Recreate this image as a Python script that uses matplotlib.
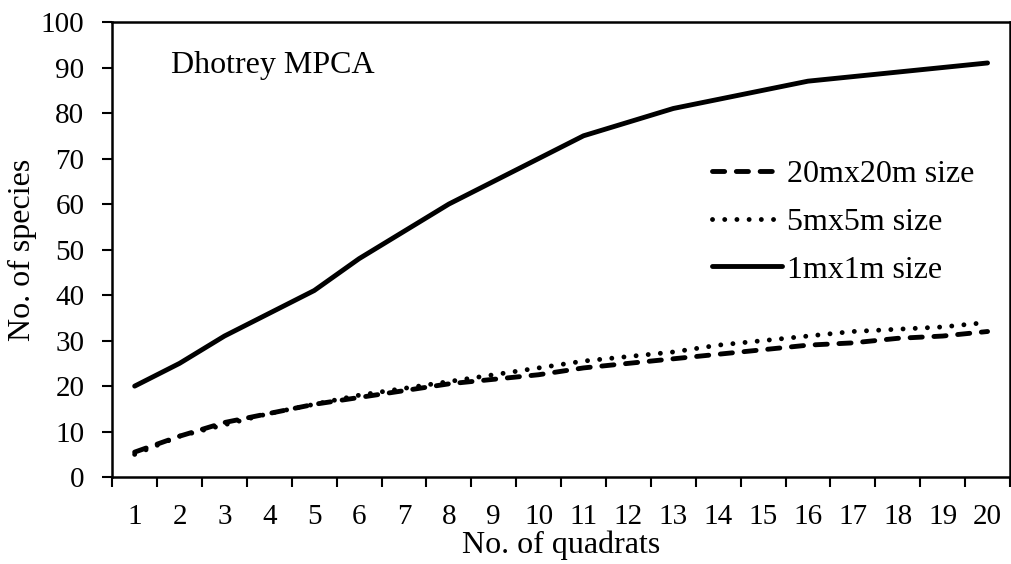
import matplotlib.pyplot as plt
import numpy as np

# data
quadrats = list(range(1, 21))
size_20m = [5.5, 9, 12, 14, 16, 17.5, 19, 20.5, 21.5, 22.5, 24, 25, 26, 27, 28, 29, 29.5, 30.5, 31, 32]
size_5m = [5, 9, 11.5, 14, 16, 18, 19.5, 21, 22.5, 24, 25.5, 26.5, 27.5, 29, 30, 31, 32, 32.5, 33, 34]
size_1m = [20, 25, 31, 36, 41, 48, 54, 60, 65, 70, 75, 78, 81, 83, 85, 87, 88, 89, 90, 91]

plt.rcParams['font.family'] = ['Liberation Serif', 'DejaVu Serif']
plt.rcParams['font.size'] = 23

fig, ax = plt.subplots(figsize=(10.11, 5.64), dpi=100)
fig.subplots_adjust(left=0.111, right=0.999, top=0.961, bottom=0.154)

x = np.arange(len(quadrats))
ax.plot(x, size_20m, color='black', lw=3.5, linestyle=(0, (2.5, 2.4)),
        dash_capstyle='round', label='20mx20m size')
ax.plot(x, size_5m, color='black', lw=3.5, linestyle=(0, (0.01, 2.5)),
        dash_capstyle='round', label='5mx5m size')
ax.plot(x, size_1m, color='black', lw=3.5, solid_capstyle='round', label='1mx1m size')

ax.set_xlim(-0.5, len(quadrats) - 0.5)
ax.set_ylim(0, 100)
ax.set_yticks(range(0, 101, 10))
ax.set_xticks(x)
ax.set_xticklabels([str(q) for q in quadrats])
# category ticks sit between the labels, like the original
ax.set_xticks(np.arange(-0.5, len(quadrats), 1), minor=True)
ax.tick_params(axis='x', which='major', length=0, pad=19, labelsize=21)
ax.tick_params(axis='x', which='minor', length=7, width=1.5, direction='out')
ax.tick_params(axis='y', length=7, width=1.5, direction='out', pad=13, labelsize=21)

for s in ax.spines.values():
    s.set_linewidth(1.8)

ax.set_xlabel('No. of quadrats', labelpad=1)
ax.set_ylabel('No. of species', labelpad=3)

ax.text(0.065, 0.905, 'Dhotrey MPCA', transform=ax.transAxes, va='center')

ax.legend(loc='upper left', bbox_to_anchor=(0.668, 0.698), frameon=False,
          handlelength=2.2, labelspacing=0.58, handletextpad=0.15,
          borderaxespad=0, borderpad=0)

plt.savefig('out.png', dpi=100)
